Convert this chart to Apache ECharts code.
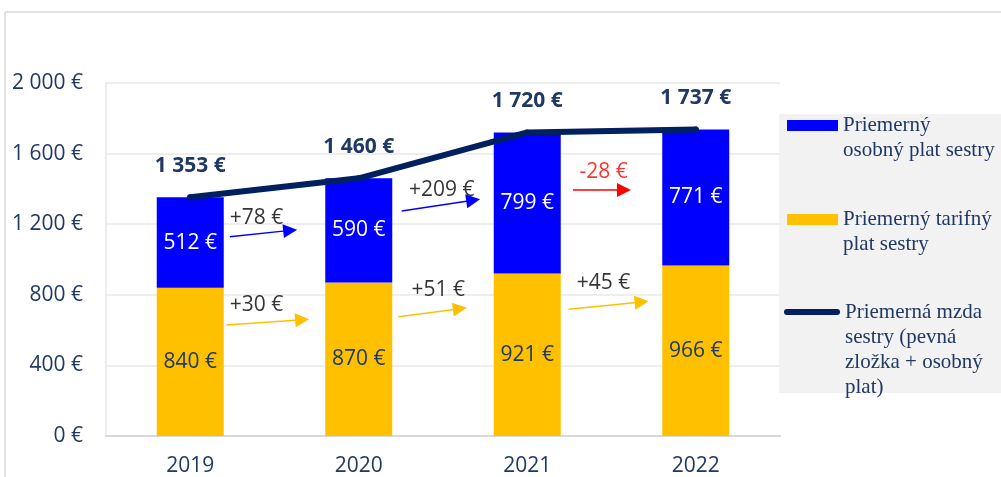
<!DOCTYPE html>
<html>
<head>
<meta charset="utf-8">
<script src="https://cdn.jsdelivr.net/npm/echarts@6/dist/echarts.min.js"></script>
<style>
html,body{margin:0;padding:0;background:#fff;}
#chart{width:1001px;height:477px;}
</style>
</head>
<body>
<div id="chart"></div>
<script>
// ---- data ----
const categories = ['2019', '2020', '2021', '2022'];
const tarifnyPlat = [840, 870, 921, 966];
const osobnyPlat = [512, 590, 799, 771];
const mzda = [1353, 1460, 1720, 1737];
const yTickValues = [0, 400, 800, 1200, 1600, 2000];
const yTickLabels = ['0 €', '400 €', '800 €', '1 200 €', '1 600 €', '2 000 €'];
const seriesNames = [
  'Priemerný\nosobný plat sestry',
  'Priemerný tarifný\nplat sestry',
  'Priemerná mzda\nsestry (pevná\nzložka + osobný\nplat)'
];
// year-on-year change annotations (x in category units, y in €)
const changeTexts = ['+78 €', '+30 €', '+209 €', '+51 €', '-28 €', '+45 €'];
const changeKinds = ['osobny', 'tarifny', 'osobny', 'tarifny', 'decrease', 'tarifny'];
const changeTextAt = [[0.393, 1233], [0.393, 742], [1.493, 1394], [1.472, 827], [2.453, 1498], [2.453, 865]];
const changeArrowFrom = [[0.235, 1129], [0.215, 629], [1.255, 1275], [1.235, 676], [2.271, 1394], [2.245, 718]];
const changeArrowTo = [[0.593, 1165], [0.664, 659], [1.679, 1336], [1.600, 721], [2.574, 1394], [2.679, 759]];

// ---- styles ----
const NAVY = '#1f3864';
const LINE_NAVY = '#002060';
const BLUE = '#0000ff';
const YELLOW = '#ffc000';
const kindColor = { osobny: BLUE, tarifny: YELLOW, decrease: '#ff0000' };
const FONT = 'Open Sans';
const FS = 21;
const LEG_LH = 25;
const fmtEur = v => String(v).replace(/\B(?=(\d{3})+(?!\d))/g, ' ') + ' €';

const chart = echarts.init(document.getElementById('chart'), null, { renderer: 'canvas' });

function legendFor(idx, left, top, icon, w, h) {
  const lines = seriesNames[idx].split('\n').length;
  return {
    orient: 'vertical',
    left: left,
    top: top,
    padding: 0,
    selectedMode: false,
    itemGap: 0,
    icon: icon,
    itemWidth: w,
    itemHeight: h,
    data: [seriesNames[idx]],
    // blank leading lines keep the first text line level with the key
    formatter: name => '\n'.repeat(lines - 1) + name,
    textStyle: { fontFamily: 'Liberation Serif', fontSize: 21, color: NAVY, lineHeight: LEG_LH, align: 'left' }
  };
}

const option = {
  animation: false,
  backgroundColor: '#ffffff',
  textStyle: { fontFamily: FONT },
  grid: { left: 106, right: 221, top: 83, bottom: 41, containLabel: false },
  legend: [
    legendFor(0, 787, 88, 'rect', 51, 11),
    legendFor(1, 787, 182, 'rect', 51, 11),
    legendFor(2, 784, 224.5, 'path://M3,0 H53 A3,3 0 0 1 53,6 H3 A3,3 0 0 1 3,0 Z', 56, 6)
  ],
  graphic: [
    { type: 'rect', z: -10, shape: { x: 779, y: 114, width: 222, height: 279 }, style: { fill: '#f2f2f2' } },
    { type: 'line', z: -10, shape: { x1: 5, y1: 12, x2: 1001, y2: 12 }, style: { stroke: '#d9d9d9', lineWidth: 1.5 } },
    { type: 'line', z: -10, shape: { x1: 5, y1: 12, x2: 5, y2: 477 }, style: { stroke: '#d9d9d9', lineWidth: 1.5 } }
  ],
  xAxis: [
    {
      type: 'category',
      data: categories,
      axisTick: { show: false },
      axisLine: { show: true, lineStyle: { color: '#d9d9d9', width: 2 } },
      axisLabel: { color: NAVY, fontSize: FS, fontFamily: FONT, margin: 20 }
    },
    { type: 'value', min: -0.5, max: 3.5, show: false }
  ],
  yAxis: {
    type: 'value',
    min: 0,
    max: 2000,
    interval: 400,
    axisLine: { show: true, onZero: false, lineStyle: { color: '#e6e6e6', width: 1.5 } },
    axisTick: { show: false },
    splitLine: { lineStyle: { color: '#eeeeee', width: 2 } },
    axisLabel: {
      color: NAVY, fontSize: FS, fontFamily: FONT, margin: 23,
      formatter: v => yTickLabels[yTickValues.indexOf(v)]
    }
  },
  series: [
    {
      name: seriesNames[1],
      type: 'bar',
      stack: 'plat',
      data: tarifnyPlat,
      barWidth: 67,
      itemStyle: { color: YELLOW },
      label: { show: true, position: 'inside', color: NAVY, fontSize: FS, fontFamily: FONT, formatter: p => fmtEur(p.value) }
    },
    {
      name: seriesNames[0],
      type: 'bar',
      stack: 'plat',
      data: osobnyPlat,
      barWidth: 67,
      itemStyle: { color: BLUE },
      label: { show: true, position: 'inside', color: '#ffffff', fontSize: FS, fontFamily: FONT, formatter: p => fmtEur(p.value) }
    },
    {
      name: seriesNames[2],
      type: 'line',
      data: mzda,
      z: 5,
      symbol: 'circle',
      symbolSize: 6,
      itemStyle: { color: LINE_NAVY },
      lineStyle: { color: LINE_NAVY, width: 6, cap: 'round', join: 'round' },
      label: { show: true, position: 'top', distance: 18, color: NAVY, fontSize: FS, fontWeight: 'bold', fontFamily: FONT, formatter: p => fmtEur(p.value) }
    },
    {
      name: 'zmeny-sipky',
      type: 'lines',
      coordinateSystem: 'cartesian2d',
      xAxisIndex: 1,
      yAxisIndex: 0,
      z: 6,
      symbol: ['none', 'triangle'],
      symbolSize: [13, 14],
      data: changeArrowFrom.map((f, i) => ({
        coords: [f, changeArrowTo[i]],
        lineStyle: { color: kindColor[changeKinds[i]], width: 1.5, opacity: 1 }
      })),
      lineStyle: { width: 1.5, opacity: 1, curveness: 0 }
    },
    {
      name: 'zmeny-texty',
      type: 'scatter',
      xAxisIndex: 1,
      yAxisIndex: 0,
      z: 7,
      symbolSize: 0,
      silent: true,
      data: changeTextAt.map((p, i) => ({
        value: p,
        label: { color: changeKinds[i] === 'decrease' ? '#ff0000' : '#000000' }
      })),
      label: {
        show: true, position: 'inside', fontSize: FS, fontFamily: FONT,
        formatter: p => changeTexts[p.dataIndex]
      }
    }
  ]
};
chart.setOption(option);
</script>
</body>
</html>
